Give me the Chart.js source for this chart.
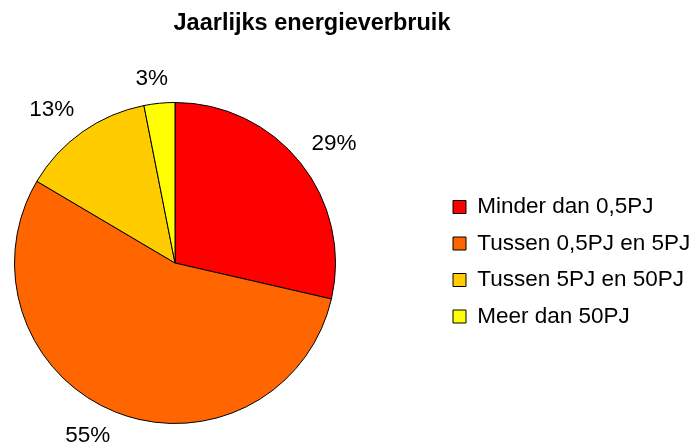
<!DOCTYPE html>
<html>
<head>
<meta charset="utf-8">
<script src="https://cdn.jsdelivr.net/npm/chart.js@4/dist/chart.umd.min.js"></script>
<style>
  html, body { margin: 0; padding: 0; background: #fff; }
  canvas { display: block; }
</style>
</head>
<body>
<canvas id="pieChart" width="695" height="446"></canvas>
<script>
const categories = ["Minder dan 0,5PJ", "Tussen 0,5PJ en 5PJ", "Tussen 5PJ en 50PJ", "Meer dan 50PJ"];
const shares = [28.6, 54.9, 13.4, 3.1];
const sliceColors = ["#ff0000", "#ff6600", "#ffcc00", "#ffff00"];
const chartTitle = "Jaarlijks energieverbruik";

const FONT = "'Liberation Sans', Arial, sans-serif";

// pin the pie, title and legend where the original puts them
const placeBoxes = {
  id: "placeBoxes",
  afterLayout(chart) {
    const a = chart.chartArea;
    a.left = 14; a.right = 336; a.top = 102; a.bottom = 424;
    a.width = a.right - a.left;
    a.height = a.bottom - a.top;
    if (chart.titleBlock) {
      chart.titleBlock.left = 0;
      chart.titleBlock.right = 624;
    }
    const l = chart.legend;
    l.left = 439; l.right = 695; l.top = 78; l.bottom = 445.5;
  }
};

// percentage labels outside each slice
const outsideLabels = {
  id: "outsideLabels",
  afterDatasetsDraw(chart) {
    const ctx = chart.ctx;
    const meta = chart.getDatasetMeta(0);
    ctx.save();
    ctx.font = "22.5px " + FONT;
    ctx.fillStyle = "#000";
    ctx.textAlign = "center";
    ctx.textBaseline = "middle";
    meta.data.forEach((arc, i) => {
      const mid = (arc.startAngle + arc.endAngle) / 2;
      const d = arc.outerRadius + 14;
      const c = Math.cos(mid), s = Math.sin(mid);
      const text = Math.round(shares[i]) + "%";
      const w = ctx.measureText(text).width;
      const sx = Math.sign(c) * Math.min(1, Math.abs(c) * 4) * w / 2;
      const sy = Math.sign(s) * 11;
      ctx.fillText(text, arc.x + c * d + sx, arc.y + s * d + sy);
    });
    ctx.restore();
  }
};

new Chart(document.getElementById("pieChart"), {
  type: "pie",
  data: {
    labels: categories,
    datasets: [{
      data: shares,
      backgroundColor: sliceColors,
      borderColor: "#000",
      borderWidth: 1,
      hoverOffset: 0
    }]
  },
  options: {
    responsive: false,
    devicePixelRatio: 1,
    animation: false,
    events: [],
    plugins: {
      title: {
        display: true,
        text: chartTitle,
        color: "#000",
        font: { family: FONT, size: 23.5, weight: "bold" },
        padding: { top: 9, bottom: 10 }
      },
      legend: {
        position: "right",
        labels: {
          color: "#000",
          font: { family: FONT, size: 22.5 },
          boxWidth: 13,
          boxHeight: 13,
          padding: 14
        }
      },
      tooltip: { enabled: false }
    }
  },
  plugins: [placeBoxes, outsideLabels]
});
</script>
</body>
</html>
